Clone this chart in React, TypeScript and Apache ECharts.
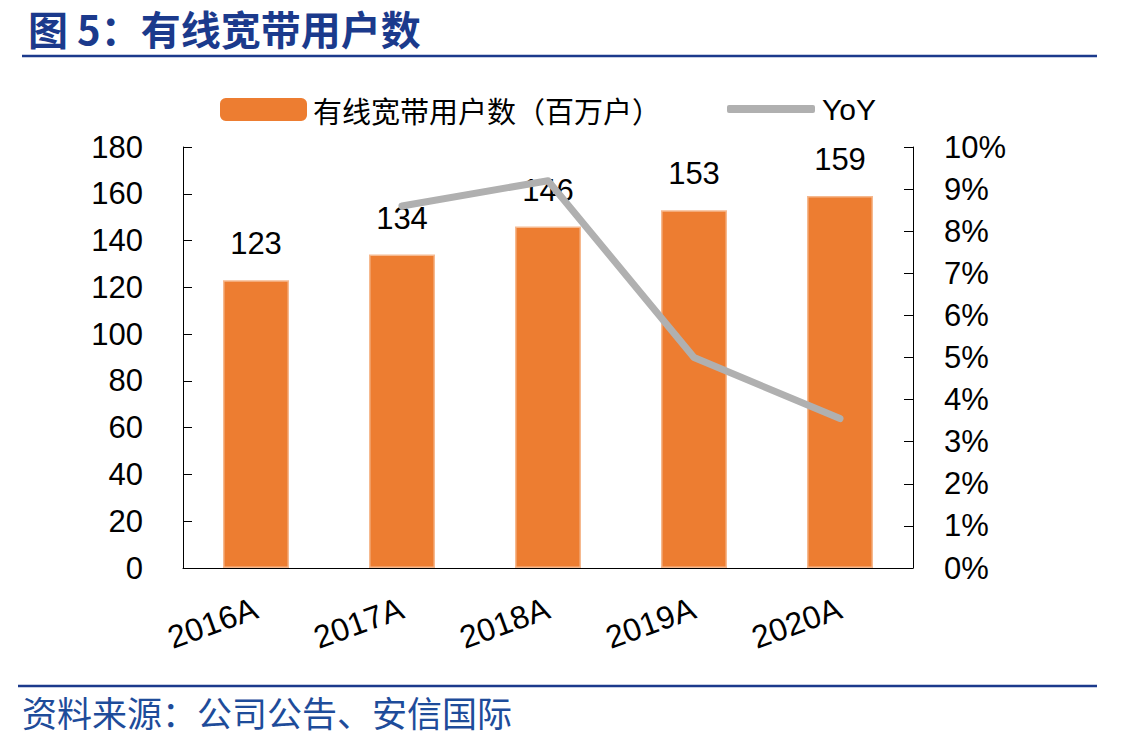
import React, { useEffect, useRef } from "react";
import * as echarts from "echarts";

const categories = ["2016A", "2017A", "2018A", "2019A", "2020A"];
const users = [123, 134, 146, 153, 159];
const yoy: (number | null)[] = [null, 8.6, 9.2, 5.0, 3.55];
const leftAxis = { min: 0, max: 180, interval: 20 };
const rightAxis = { min: 0, max: 10, interval: 1 };
const titleText = "图 5：有线宽带用户数";
const sourceText = "资料来源：公司公告、安信国际";
const barName = "有线宽带用户数（百万户）";
const lineName = "YoY";

const LATIN = "'Liberation Sans', Arial, sans-serif";
const CJK = "'Noto Sans CJK SC', sans-serif";

export default function App() {
  const ref = useRef<HTMLDivElement>(null);
  useEffect(() => {
    document.body.style.margin = "0";
    const chart = echarts.init(ref.current!, null, { renderer: "svg" });
    chart.setOption({
      animation: false,
      backgroundColor: "#ffffff",
      grid: { left: 183, right: 232, top: 147, bottom: 179, containLabel: false },
      legend: [
        {
          data: [{ name: barName, icon: "roundRect" }],
          left: 220,
          top: 95,
          padding: 0,
          itemWidth: 87,
          itemHeight: 23,
          itemStyle: { borderWidth: 0 },
          textStyle: { fontSize: 29, color: "#000", fontFamily: CJK, padding: [0, 0, 0, 1] },
        },
        {
          data: [{ name: lineName, icon: "roundRect" }],
          left: 727,
          top: 94,
          padding: 0,
          itemWidth: 88,
          itemHeight: 8,
          itemStyle: { color: "#B0B0B0", borderWidth: 0 },
          textStyle: { fontSize: 30, color: "#000", fontFamily: LATIN, padding: [0, 0, 0, 2] },
        },
      ],
      xAxis: {
        type: "category",
        data: categories,
        axisLine: { lineStyle: { color: "#000", width: 1 } },
        axisTick: { inside: true, length: 9, lineStyle: { color: "#000" } },
        axisLabel: { rotate: 20, fontSize: 32, color: "#000", fontFamily: LATIN, margin: 39 },
      },
      yAxis: [
        {
          type: "value",
          ...leftAxis,
          axisLine: { show: true, lineStyle: { color: "#000" } },
          axisTick: { show: true, inside: true, length: 9, lineStyle: { color: "#000" } },
          splitLine: { show: false },
          axisLabel: { fontSize: 31, color: "#000", fontFamily: LATIN, margin: 40 },
        },
        {
          type: "value",
          ...rightAxis,
          position: "right",
          axisLine: { show: true, lineStyle: { color: "#000" } },
          axisTick: { show: true, inside: true, length: 9, lineStyle: { color: "#000" } },
          splitLine: { show: false },
          axisLabel: { fontSize: 31, color: "#000", fontFamily: LATIN, margin: 31, formatter: "{value}%" },
        },
      ],
      series: [
        {
          name: barName,
          type: "bar",
          data: users,
          barWidth: 66,
          itemStyle: { color: "#ED7D31", borderColor: "#F6B98F", borderWidth: 1.5 },
          label: {
            show: true,
            position: "top",
            distance: 21,
            fontSize: 31,
            color: "#000",
            fontFamily: LATIN,
          },
          z: 2,
        },
        {
          name: lineName,
          type: "line",
          yAxisIndex: 1,
          data: yoy,
          symbol: "none",
          color: "#B0B0B0",
          itemStyle: { color: "#B0B0B0" },
          lineStyle: { color: "#B0B0B0", width: 7, cap: "round", join: "round" },
          z: 3,
        },
      ],
      graphic: [
        {
          type: "text",
          left: 28,
          top: 8,
          style: { text: titleText, fontSize: 40, fontWeight: "bold", fill: "#1B3A8C", fontFamily: CJK },
        },
        {
          type: "line",
          shape: { x1: 22, y1: 56, x2: 1097, y2: 56 },
          style: { stroke: "#1B3A8C", lineWidth: 2.5 },
        },
        {
          type: "line",
          shape: { x1: 18, y1: 686, x2: 1097, y2: 686 },
          style: { stroke: "#1B3A8C", lineWidth: 2.5 },
        },
        {
          type: "text",
          left: 22,
          top: 694,
          style: { text: sourceText, fontSize: 35, fill: "#1E4C9A", fontFamily: CJK },
        },
      ],
    });
    return () => chart.dispose();
  }, []);
  return <div ref={ref} style={{ width: 1145, height: 747 }} />;
}
